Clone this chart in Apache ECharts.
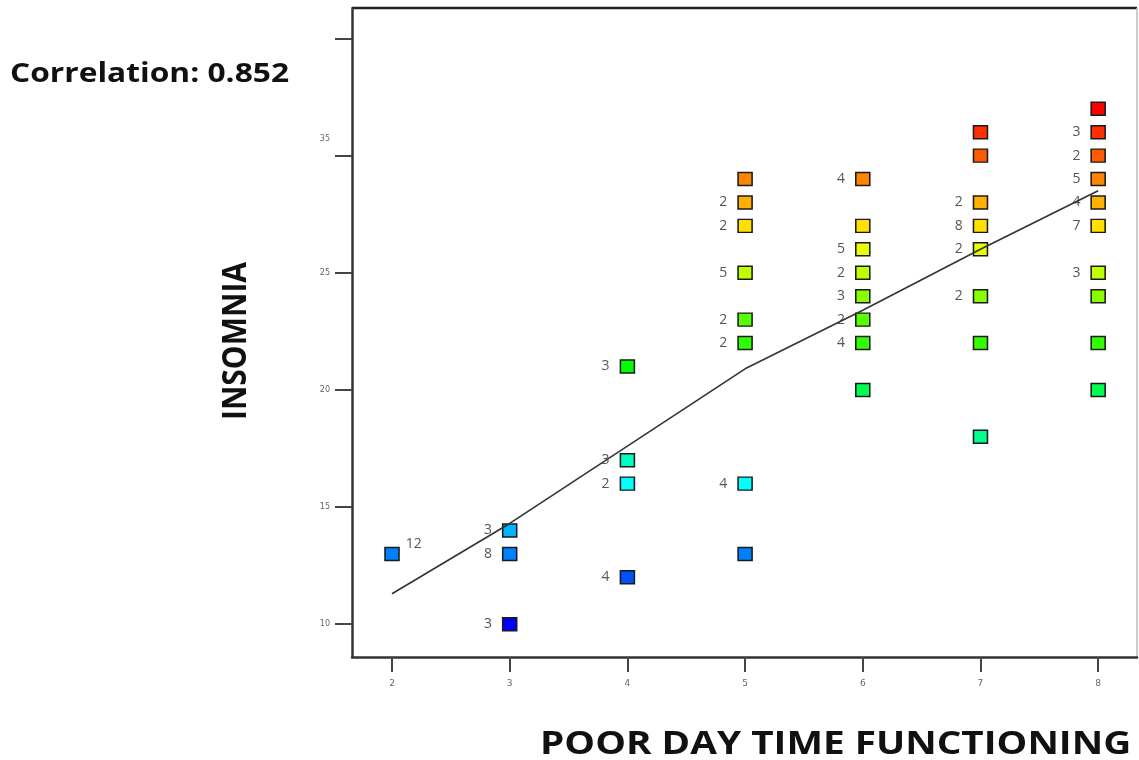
<!DOCTYPE html>
<html>
<head>
<meta charset="utf-8">
<script src="https://cdn.jsdelivr.net/npm/echarts@6/dist/echarts.min.js"></script>
<style>
html,body{margin:0;padding:0;background:#fff;}
#chart{width:1139px;height:760px;}
</style>
</head>
<body>
<div id="chart"></div>
<script>
// ---- data ----
var xTicks = [2, 3, 4, 5, 6, 7, 8];
var yTicks = [10, 15, 20, 25, 30, 35];
var yTickLabels = ['10', '15', '20', '25', '35', ''];

var pointX = [2, 3, 3, 3, 4, 4, 4, 4,
  5, 5, 5, 5, 5, 5, 5, 5,
  6, 6, 6, 6, 6, 6, 6, 6,
  7, 7, 7, 7, 7, 7, 7, 7,
  8, 8, 8, 8, 8, 8, 8, 8, 8, 8];
var pointY = [13, 14, 13, 10, 21, 17, 16, 12,
  29, 28, 27, 25, 23, 22, 16, 13,
  29, 27, 26, 25, 24, 23, 22, 20,
  31, 30, 28, 27, 26, 24, 22, 18,
  32, 31, 30, 29, 28, 27, 25, 24, 22, 20];
var pointCount = ['12', '3', '8', '3', '3', '3', '2', '4',
  '', '2', '2', '5', '2', '2', '4', '',
  '4', '', '5', '2', '3', '2', '4', '',
  '', '', '2', '8', '2', '2', '', '',
  '', '3', '2', '5', '4', '7', '3', '', '', ''];

var fitX = [2, 3, 4, 5, 6, 7, 8];
var fitY = [11.3, 14.3, 17.6, 20.9, 23.4, 26.0, 28.5];

var correlationText = 'Correlation: 0.852';
var xTitle = 'POOR DAY TIME FUNCTIONING';
var yTitle = 'INSOMNIA';

// ---- styles ----
var colorByValue = {
  10: '#0000ff', 12: '#0050ff', 13: '#0080ff', 14: '#00b4ff', 16: '#00ffff',
  17: '#00ffc0', 18: '#00ff90', 20: '#00ff50', 21: '#00ff00', 22: '#30ff00',
  23: '#55ff00', 24: '#88ff00', 25: '#c0ff00', 26: '#eaff00', 27: '#ffe000',
  28: '#ffb000', 29: '#ff8400', 30: '#ff5a00', 31: '#ff3000', 32: '#ff0000'
};

var scatterData = pointX.map(function (x, i) {
  var item = { value: [x, pointY[i], pointCount[i]] };
  if (i === 0) {
    item.label = { position: 'right', offset: [-4, -10] };
  }
  return item;
});

var chart = echarts.init(document.getElementById('chart'));
chart.setOption({
  animation: false,
  backgroundColor: '#ffffff',
  grid: { left: 352, right: 2, top: 8, bottom: 103, show: false },
  xAxis: {
    type: 'value', min: 1.66, max: 8.33,
    splitLine: { show: false },
    axisLine: { lineStyle: { color: '#333', width: 2.5 } },
    axisTick: { customValues: xTicks, length: 15, lineStyle: { color: '#444', width: 2 } },
    axisLabel: { customValues: xTicks, color: '#666', fontSize: 9, margin: 22, fontFamily: 'DejaVu Sans' }
  },
  yAxis: {
    type: 'value', min: 8.6, max: 36.3,
    splitLine: { show: false },
    axisLine: { lineStyle: { color: '#333', width: 2.5 } },
    axisTick: { customValues: yTicks, length: 17, lineStyle: { color: '#444', width: 2 } },
    axisLabel: {
      customValues: yTicks, color: '#666', fontSize: 8, margin: 22, fontFamily: 'DejaVu Sans',
      formatter: function (v) {
        var idx = yTicks.indexOf(Math.round(v));
        var t = idx >= 0 ? yTickLabels[idx] : '';
        if (Math.round(v) === 30) return '{up|' + t + '}';
        return t;
      },
      rich: { up: { fontSize: 8, color: '#666', padding: [0, 0, 34, 0] } }
    }
  },
  series: [
    {
      type: 'line',
      data: fitX.map(function (x, i) { return [x, fitY[i]]; }),
      showSymbol: false,
      symbol: 'none',
      lineStyle: { color: '#333', width: 1.6 },
      z: 3
    },
    {
      type: 'scatter',
      data: scatterData,
      symbol: 'rect',
      symbolSize: [14, 13],
      itemStyle: {
        color: function (p) { return colorByValue[p.value[1]] || '#888'; },
        borderColor: '#1a1a1a',
        borderWidth: 1.5,
        opacity: 1
      },
      emphasis: { disabled: true },
      label: {
        show: true,
        position: 'left',
        distance: 10,
        color: '#555',
        fontSize: 14,
        fontFamily: 'Open Sans',
        formatter: function (p) { return p.value[2]; }
      },
      z: 2
    }
  ],
  graphic: [
    { type: 'line', shape: { x1: 352, y1: 8, x2: 1137, y2: 8 }, style: { stroke: '#222', lineWidth: 2.5 } },
    { type: 'line', shape: { x1: 1137, y1: 8, x2: 1137, y2: 657 }, style: { stroke: '#bbbbbb', lineWidth: 1.5 } },
    { type: 'text', x: 10, y: 75, scaleX: 1.22, style: { text: correlationText, font: 'bold 26px "Open Sans"', fill: '#111', verticalAlign: 'middle' } },
    { type: 'text', x: 236, y: 341, rotation: Math.PI / 2, scaleY: 1.12, style: { text: yTitle, font: 'bold 30px "Open Sans"', fill: '#111', align: 'center', verticalAlign: 'middle' } },
    { type: 'text', x: 540, y: 745, scaleX: 1.21, style: { text: xTitle, font: 'bold 32px "Open Sans"', fill: '#111', verticalAlign: 'middle' } }
  ]
});
</script>
</body>
</html>
